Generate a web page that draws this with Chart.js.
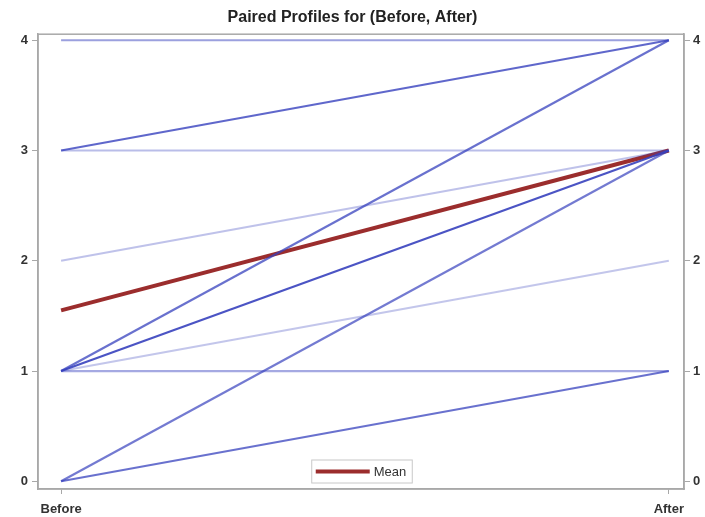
<html>
<head>
<script src="https://cdn.jsdelivr.net/npm/chart.js@4"></script>
<style>
  body { margin: 0; background: #fff; }
  #wrap { width: 705px; height: 517px; }
</style>
</head>
<body>
<div id="wrap"><canvas id="myChart"></canvas></div>
<script>
// categories on the x axis
var timeLabels = ['Before', 'After'];
// paired profiles: value before, value after
var beforeVals = [4, 3, 3, 2, 1, 1, 1, 1, 0, 0];
var afterVals  = [4, 4, 3, 3, 4, 3, 2, 1, 3, 1];
// mean profile
var meanVals = [1.55, 3.0];
var yTicks = [0, 1, 2, 3, 4];

// line shading (looks like overlap density in the picture)
var lineAlpha = [0.5, 0.8, 0.35, 0.32, 0.75, 0.9, 0.3, 0.45, 0.7, 0.75];

var datasets = [];
for (var i = 0; i < beforeVals.length; ++i) {
	datasets.push({
		label: 'p' + i,
		data: [{x: 0, y: beforeVals[i]}, {x: 1, y: afterVals[i]}],
		borderColor: 'rgba(55,65,190,' + lineAlpha[i] + ')',
		borderWidth: 2.2,
		pointRadius: 0,
		fill: false
	});
}
datasets.push({
	label: 'Mean',
	data: [{x: 0, y: meanVals[0]}, {x: 1, y: meanVals[1]}],
	borderColor: 'rgb(155,45,45)',
	borderWidth: 4,
	pointRadius: 0,
	fill: false
});

// frame around the plot area + legend box inside it
var framePlugin = {
	id: 'frame',
	afterDraw: function(chart) {
		var a = chart.chartArea, ctx = chart.ctx;
		ctx.save();
		ctx.strokeStyle = '#a8a8a8';
		ctx.lineWidth = 1.5;
		ctx.strokeRect(a.left, a.top, a.right - a.left, a.bottom - a.top);

		var ds = chart.data.datasets[chart.data.datasets.length - 1];
		ctx.font = '13px "Liberation Sans", Arial, sans-serif';
		var tw = ctx.measureText(ds.label).width;
		var w = 62 + tw + 6, h = 23;
		var x0 = (a.left + a.right) / 2 - w / 2 + 1, y0 = a.bottom - h - 6;
		ctx.fillStyle = '#fff';
		ctx.fillRect(x0, y0, w, h);
		ctx.strokeStyle = '#c8c8c8';
		ctx.lineWidth = 1;
		ctx.strokeRect(x0, y0, w, h);
		ctx.strokeStyle = ds.borderColor;
		ctx.lineWidth = 4;
		ctx.beginPath();
		ctx.moveTo(x0 + 4, y0 + h / 2);
		ctx.lineTo(x0 + 58, y0 + h / 2);
		ctx.stroke();
		ctx.fillStyle = '#333';
		ctx.textBaseline = 'middle';
		ctx.fillText(ds.label, x0 + 62, y0 + h / 2 + 1);
		ctx.restore();
	}
};

var tickFont = { family: '"Liberation Sans", Arial, sans-serif', size: 13, weight: 'bold' };

function fixYTicks(scale) {
	scale.ticks = yTicks.map(function(v) { return {value: v}; });
}

var ctx = document.getElementById('myChart').getContext('2d');
var chart = new Chart(ctx, {
	type: 'line',
	data: { datasets: datasets },
	plugins: [framePlugin],
	options: {
		responsive: true,
		maintainAspectRatio: false,
		animation: false,
		layout: { padding: 0 },
		plugins: {
			legend: { display: false },
			tooltip: { enabled: false },
			title: {
				display: true,
				text: 'Paired Profiles for (Before, After)',
				color: '#222',
				font: { family: '"Liberation Sans", Arial, sans-serif', size: 16, weight: 'bold' },
				padding: { top: 8, bottom: 7 }
			}
		},
		scales: {
			x: {
				type: 'linear',
				min: -0.038,
				max: 1.025,
				afterBuildTicks: function(scale) {
					scale.ticks = [{value: 0}, {value: 1}];
				},
				afterFit: function(scale) { scale.height = 28; },
				ticks: {
					color: '#333',
					font: tickFont,
					padding: 8,
					callback: function(v) { return timeLabels[v]; }
				},
				grid: { drawOnChartArea: false, tickLength: 5, color: '#a8a8a8' },
				border: { color: '#a8a8a8', width: 1.5 }
			},
			y: {
				position: 'left',
				min: -0.07,
				max: 4.055,
				afterBuildTicks: fixYTicks,
				afterFit: function(scale) { scale.width = 38; },
				ticks: { color: '#333', font: tickFont, padding: 4 },
				grid: { drawOnChartArea: false, tickLength: 6, color: '#a8a8a8' },
				border: { color: '#a8a8a8', width: 1.5 }
			},
			y2: {
				position: 'right',
				min: -0.07,
				max: 4.055,
				afterBuildTicks: fixYTicks,
				afterFit: function(scale) { scale.width = 21; },
				ticks: { color: '#333', font: tickFont, padding: 3 },
				grid: { drawOnChartArea: false, tickLength: 6, color: '#a8a8a8' },
				border: { color: '#a8a8a8', width: 1.5 }
			}
		}
	}
});
</script>
</body>
</html>
